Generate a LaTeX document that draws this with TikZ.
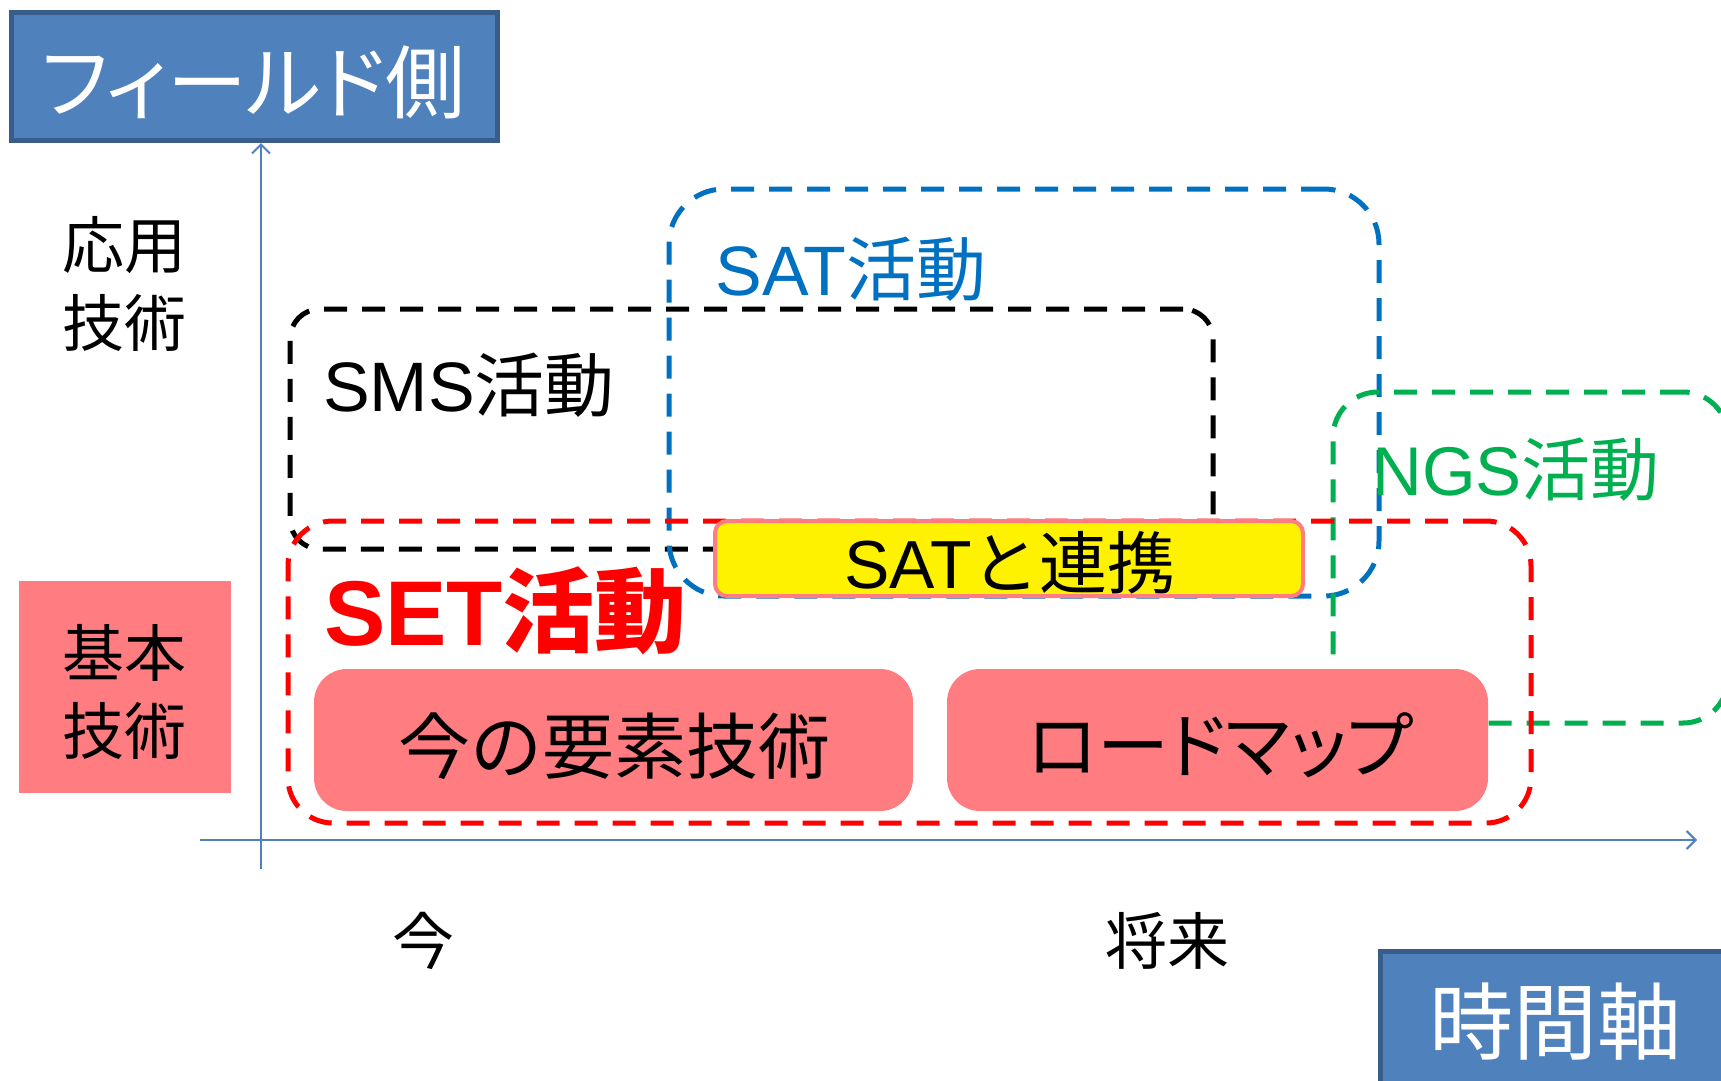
\documentclass[tikz,border=0pt]{standalone}
\usepackage{fontspec}
\setmainfont{Noto Sans CJK JP}
\newfontfamily\jpprop[RawFeature=+palt]{Noto Sans CJK JP}
\newfontfamily\lat{Liberation Sans}
\usetikzlibrary{arrows.meta}
\definecolor{hdrfill}{HTML}{4F81BD}
\definecolor{hdrline}{HTML}{385D8A}
\definecolor{pinkf}{HTML}{FF7C80}
\definecolor{satblue}{HTML}{0070C0}
\definecolor{ngsgreen}{HTML}{00B050}
\definecolor{axisblue}{HTML}{4F81BD}
\newcommand\fsz[1]{\fontsize{#1}{#1}\selectfont}
\begin{document}
\begin{tikzpicture}[x=1pt,y=-1pt,
  every node/.style={inner sep=0pt, outer sep=0pt},
  hdrbox/.style={draw=hdrline, fill=hdrfill, line width=5pt},
  dbox/.style={draw=#1, line width=5pt, dash pattern=on 23pt off 15pt},
  pinkbox/.style={fill=pinkf, rounded corners=33pt},
  axisline/.style={draw=axisblue, line width=2.5pt, -{Straight Barb[length=9pt,width=18pt,line width=2pt]}},
  lbl/.style={text=black, align=center},
]
\useasboundingbox (0,0) rectangle (1721,1080);

% axes
\coordinate (ybot) at (261,869);
\coordinate (ytop) at (261,143);
\coordinate (xbeg) at (200,840);
\coordinate (xend) at (1697,840);
\draw[axisline] (ybot) -- (ytop);
\draw[axisline] (xbeg) -- (xend);

% header boxes
\node[hdrbox, minimum width=486pt, minimum height=128pt] (fieldbox) at (254.5,76.5) {};
\node[text=white, font=\jpprop\fsz{80}] (fieldtxt) at (253,82) {フィールド側};
\node[hdrbox, minimum width=360pt, minimum height=160pt, anchor=north west] (timebox) at (1380.5,951.5) {};
\node[text=white, font=\fsz{84}] (timetxt) at (1555,1022) {時間軸};

% left labels
\node[lbl, font=\fontsize{62}{78}\selectfont] (ouyou) at (124,284) {応用\\技術};
\node[fill=pinkf, minimum width=212pt, minimum height=212pt] (kihonbox) at (125,687) {};
\node[lbl, font=\fontsize{62}{78}\selectfont] (kihon) at (124,692) {基本\\技術};

% time labels
\node[lbl, font=\fsz{62}] (ima) at (423,941) {今};
\node[lbl, font=\fsz{62}] (shourai) at (1167,941) {将来};

% dashed activity boxes
\node[dbox=black, rounded corners=30pt, minimum width=923pt, minimum height=240pt] (smsbox) at (751.5,429) {};
\node[dbox=satblue, rounded corners=55pt, minimum width=710pt, minimum height=407pt] (satbox) at (1024,392.5) {};
\node[dbox=ngsgreen, rounded corners=45pt, minimum width=395pt, minimum height=331pt] (ngsbox) at (1530.5,557.5) {};
\node[dbox=red, rounded corners=45pt, minimum width=1243pt, minimum height=302pt] (setbox) at (909.5,672) {};

% activity labels
\node[font=\fsz{70}, text=black] (smstxt) at (469,385) {{\lat SMS}活動};
\node[font=\fsz{70}, text=satblue] (sattxt) at (851,269) {{\lat SAT}活動};
\node[font=\fsz{69}, text=ngsgreen] (ngstxt) at (1516,470) {{\lat NGS}活動};
\node[font=\bfseries\fsz{92}, text=red] (settxt) at (505.5,610.5) {{\lat\bfseries SET}活動};

% link box
\node[draw=pinkf, fill=yellow, line width=4pt, rounded corners=12pt, minimum width=588pt, minimum height=75pt] (linkbox) at (1009,558.5) {};
\node[font=\fsz{68}, text=black] (linktxt) at (1010,563) {{\lat SAT}と連携};

% element boxes
\node[pinkbox, minimum width=599pt, minimum height=142pt] (elembox) at (613.5,740) {};
\node[font=\fsz{72}, text=black] (elemtxt) at (614.5,746) {今の要素技術};
\node[pinkbox, minimum width=541pt, minimum height=142pt] (roadbox) at (1217.5,740) {};
\node[font=\jpprop\fsz{72}, text=black] (roadtxt) at (1220,745) {ロードマップ};
\end{tikzpicture}
\end{document}
